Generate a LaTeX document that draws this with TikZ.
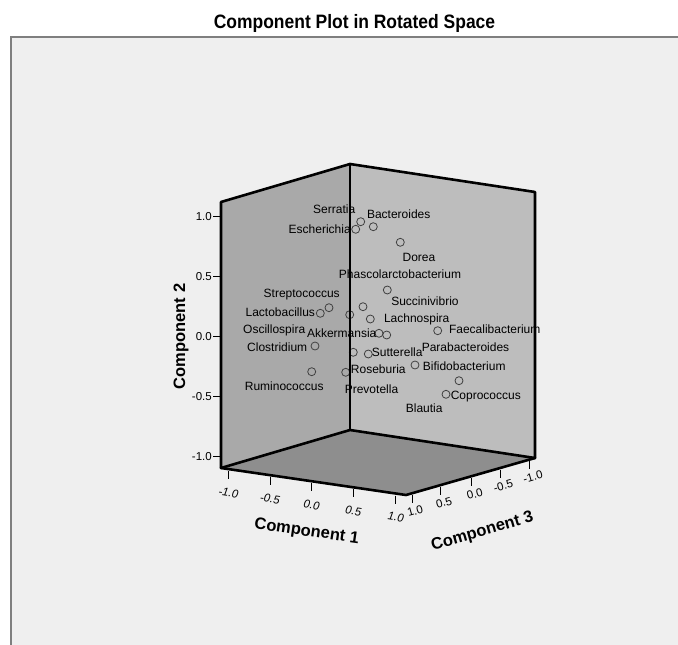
\documentclass[tikz,border=0pt]{standalone}
\usepackage{fontspec}
\setmainfont{Liberation Sans}
\newfontfamily\titlefont[FakeStretch=0.9]{Liberation Sans}
\usetikzlibrary{calc}

\definecolor{panel}{HTML}{EFEFEF}
\definecolor{frame}{HTML}{7F7F7F}
\definecolor{wallL}{HTML}{A9A9A9}
\definecolor{wallR}{HTML}{BDBDBD}
\definecolor{floor}{HTML}{8E8E8E}

\begin{document}
\begin{tikzpicture}[x=1pt,y=-1pt,
    pt/.style={circle,draw=black!75,line width=0.8pt,inner sep=0pt,minimum size=8pt},
    lbl/.style={inner sep=0pt,text height=8.6pt,text depth=0pt,font=\fontsize{12}{14}\selectfont},
    ticklbl/.style={inner sep=0pt,text height=8.2pt,text depth=0pt,font=\fontsize{11.5}{13}\selectfont},
    axlbl/.style={inner sep=0pt,text height=12pt,text depth=0pt,font=\fontsize{16.5}{19}\selectfont\bfseries},
    edge/.style={line width=2.6pt,line join=round,line cap=round}]

    % Page and chart panel
    \useasboundingbox (0,0) rectangle (678,645);
    \fill[panel] (11,37) rectangle (678,645);
    \draw[frame,line width=2pt] (11,645) -- (11,37) -- (678,37);

    % Title
    \node[anchor=base,inner sep=0pt] (title) at (354.5,28.3)
        {\titlefont\fontsize{19.4}{22}\selectfont\bfseries Component Plot in Rotated Space};

    % Corners of the box
    \coordinate (LT) at (221,202);
    \coordinate (BT) at (350,164);
    \coordinate (RT) at (535,192);
    \coordinate (LB) at (221,468);
    \coordinate (BB) at (350,430);
    \coordinate (RB) at (535,458);
    \coordinate (FB) at (406,495);

    % Walls and floor
    \fill[wallL] (LT) -- (BT) -- (BB) -- (LB) -- cycle;
    \fill[wallR] (BT) -- (RT) -- (RB) -- (BB) -- cycle;
    \fill[floor] (LB) -- (BB) -- (RB) -- (FB) -- cycle;
    \draw[edge] (LB) -- (LT) -- (BT) -- (RT) -- (RB);
    \draw[edge] (LB) -- (BB) -- (RB);
    \draw[edge] (LB) -- (FB) -- (RB);

    % Component 2 axis
    \foreach \v/\y [count=\i] in {1.0/216.7,0.5/276.7,0.0/336.7,-0.5/396.7,-1.0/456.7} {
        \draw[line width=1pt] (213,\y) -- (221,\y);
        \node[ticklbl,anchor=east] (ytick\i) at (212,\y) {\v};
    }
    \node[axlbl,rotate=90] (comp2) at (179,336.5) {Component 2};

    % Component 1 axis
    \foreach \v/\t [count=\i] in {-1.0/0.04,-0.5/0.265,0.0/0.49,0.5/0.715,1.0/0.945} {
        \coordinate (xa\i) at ($(LB)!\t!(FB)+(0,2)$);
        \draw[line width=1pt] (xa\i) -- ++(0,8) coordinate (xb\i);
        \node[ticklbl,rotate=-8.3,font=\fontsize{11.5}{13}\selectfont\itshape] (xtick\i) at ($(xb\i)+(0,13.5)$) {\v};
    }
    \node[axlbl,rotate=-8.3] (comp1) at (307,530) {Component 1};

    % Component 3 axis
    \foreach \v/\t [count=\i] in {1.0/0.047,0.5/0.27,0.0/0.51,-0.5/0.73,-1.0/0.96} {
        \coordinate (za\i) at ($(FB)!\t!(RB)+(0,2)$);
        \draw[line width=1pt] (za\i) -- ++(0,8) coordinate (zb\i);
        \node[ticklbl,rotate=16] (ztick\i) at ($(zb\i)+(3,7.5)$) {\v};
    }
    \node[axlbl,rotate=16] (comp3) at (482,530) {Component 3};

    % Loadings
    \node[pt] (p1) at (360.7,221.7) {};
    \node[pt] (p2) at (355.7,229.3) {};
    \node[pt] (p3) at (373.3,226.7) {};
    \node[pt] (p4) at (400.3,242.3) {};
    \node[pt] (p5) at (387.3,290) {};
    \node[pt] (p6) at (363,306.7) {};
    \node[pt] (p7) at (370.3,319) {};
    \node[pt] (p8) at (349.7,314.7) {};
    \node[pt] (p9) at (329,307.7) {};
    \node[pt] (p10) at (320.3,313.3) {};
    \node[pt] (p11) at (379,333.3) {};
    \node[pt] (p12) at (386.7,335) {};
    \node[pt] (p13) at (437.7,330.7) {};
    \node[pt] (p14) at (315,346) {};
    \node[pt] (p15) at (353.3,352.3) {};
    \node[pt] (p16) at (368.3,354) {};
    \node[pt] (p17) at (415,365) {};
    \node[pt] (p18) at (345.7,372.3) {};
    \node[pt] (p19) at (311.7,371.7) {};
    \node[pt] (p20) at (459,380.7) {};
    \node[pt] (p21) at (446,394.3) {};

    % Genus labels
    \node[lbl] (serratia) at (334.2,209.3) {Serratia};
    \node[lbl] (escherichia) at (319.7,229) {Escherichia};
    \node[lbl] (bacteroides) at (398.7,214) {Bacteroides};
    \node[lbl] (dorea) at (419,256.7) {Dorea};
    \node[lbl] (phasco) at (400,274.5) {Phascolarctobacterium};
    \node[lbl] (strepto) at (301.7,292.7) {Streptococcus};
    \node[lbl] (succini) at (425,301) {Succinivibrio};
    \node[lbl] (lacto) at (280.3,312) {Lactobacillus};
    \node[lbl] (lachno) at (416.7,318.3) {Lachnospira};
    \node[lbl] (oscillo) at (274.2,329.3) {Oscillospira};
    \node[lbl] (akker) at (341.7,332.7) {Akkermansia};
    \node[lbl] (faecali) at (494.7,329) {Faecalibacterium};
    \node[lbl] (clostri) at (277.2,346.7) {Clostridium};
    \node[lbl] (sutter) at (397.2,352.3) {Sutterella};
    \node[lbl] (parabac) at (465.5,347.3) {Parabacteroides};
    \node[lbl] (rosebur) at (378.3,369.3) {Roseburia};
    \node[lbl] (bifido) at (464.2,366) {Bifidobacterium};
    \node[lbl] (rumino) at (284.2,385.7) {Ruminococcus};
    \node[lbl] (prevo) at (371.5,389.3) {Prevotella};
    \node[lbl] (copro) at (485.8,395) {Coprococcus};
    \node[lbl] (blautia) at (424.2,407.7) {Blautia};

    % Back edge on top
    \draw[edge] (BT) -- (BB);
\end{tikzpicture}
\end{document}
